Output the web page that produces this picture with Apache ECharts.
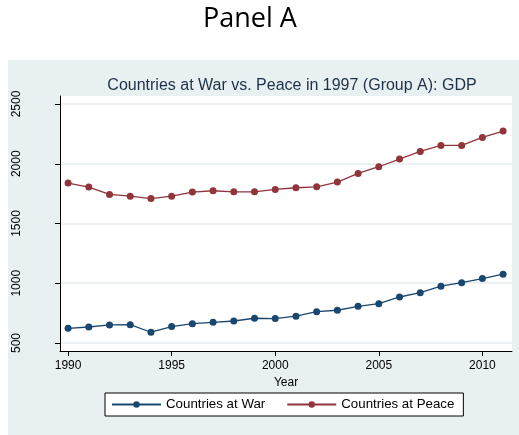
<!DOCTYPE html>
<html>
<head>
<meta charset="utf-8">
<script src="https://cdn.jsdelivr.net/npm/echarts@6/dist/echarts.min.js"></script>
<style>html,body{margin:0;padding:0;background:#fff}#c{width:519px;height:435px}</style>
</head>
<body>
<div id="c"></div>
<script>
var years = [1990,1991,1992,1993,1994,1995,1996,1997,1998,1999,2000,2001,2002,2003,2004,2005,2006,2007,2008,2009,2010,2011];
var warValues = [623,634,651,653,590,637,662,673,684,707,704,724,762,774,807,829,885,921,975,1005,1039,1076];
var peaceValues = [1838,1805,1743,1729,1709,1729,1763,1774,1765,1765,1785,1799,1807,1847,1919,1975,2039,2103,2153,2153,2220,2274];
var xTicks = [1990,1995,2000,2005,2010];
var yTicks = [500,1000,1500,2000,2500];
var seriesNames = ['Countries at War','Countries at Peace'];
var panelTitle = 'Panel A';
var chartTitle = 'Countries at War vs. Peace in 1997 (Group A): GDP';

function pairs(vals){ return years.map(function(y,i){ return [y, vals[i]]; }); }

var chart = echarts.init(document.getElementById('c'), null, {renderer:'canvas'});
var font = 'Liberation Sans, Arial, sans-serif';
chart.setOption({
  backgroundColor: '#ffffff',
  animation: false,
  graphic: [{
    type: 'rect', z: -10, silent: true,
    shape: {x: 8, y: 60, width: 511, height: 375},
    style: {fill: '#e9f0f2'}
  }],
  title: [{
    text: panelTitle, left: 245, top: 1, textAlign: 'center',
    textStyle: {fontFamily: 'Open Sans', fontWeight: 'normal', fontSize: 27, color: '#000'}
  },{
    text: chartTitle, left: 287, top: 73, textAlign: 'center',
    textStyle: {fontFamily: font, fontWeight: 'normal', fontSize: 16, color: '#1c3048'}
  }],
  legend: {
    left: 105, top: 393,
    orient: 'horizontal',
    backgroundColor: '#ffffff', borderColor: '#000', borderWidth: 1, borderRadius: 0,
    padding: [5, 9, 5, 6],
    itemWidth: 49, itemHeight: 8, itemGap: 21,
    textStyle: {fontFamily: font, fontSize: 13.3, color: '#000', padding: [0,0,0,0]},
    data: seriesNames
  },
  grid: {
    left: 60, right: 7, top: 96, bottom: 84,
    show: true, backgroundColor: '#ffffff', borderWidth: 0
  },
  xAxis: {
    type: 'value', min: 1989.61, max: 2011.43,
    name: 'Year', nameLocation: 'middle', nameGap: 20,
    nameTextStyle: {fontFamily: font, fontSize: 12, color: '#000'},
    axisLine: {show: true, onZero: false, lineStyle: {color: '#000', width: 1}},
    axisTick: {show: true, length: 5, customValues: xTicks, lineStyle: {color: '#000'}},
    axisLabel: {customValues: xTicks, margin: 9, fontFamily: font, fontSize: 12, color: '#000',
      formatter: function(v){ return String(v); }},
    splitLine: {show: false}
  },
  yAxis: {
    type: 'value', min: 433, max: 2567,
    axisLine: {show: true, onZero: false, lineStyle: {color: '#000', width: 1}},
    axisTick: {show: true, length: 5, customValues: yTicks, lineStyle: {color: '#000'}},
    axisLabel: {customValues: yTicks, rotate: 90, margin: 37, fontFamily: font, fontSize: 12, color: '#000',
      formatter: function(v){ return String(v); }},
    splitLine: {show: true, lineStyle: {color: '#e6eef1', width: 1.5}}
  },
  series: [{
    name: seriesNames[0], type: 'line', data: pairs(warValues),
    symbol: 'circle', symbolSize: 7, showSymbol: true,
    lineStyle: {color: '#1a476f', width: 1.3},
    itemStyle: {color: '#1a476f'}
  },{
    name: seriesNames[1], type: 'line', data: pairs(peaceValues),
    symbol: 'circle', symbolSize: 7, showSymbol: true,
    lineStyle: {color: '#90353b', width: 1.3},
    itemStyle: {color: '#90353b'}
  }]
});
</script>
</body>
</html>
